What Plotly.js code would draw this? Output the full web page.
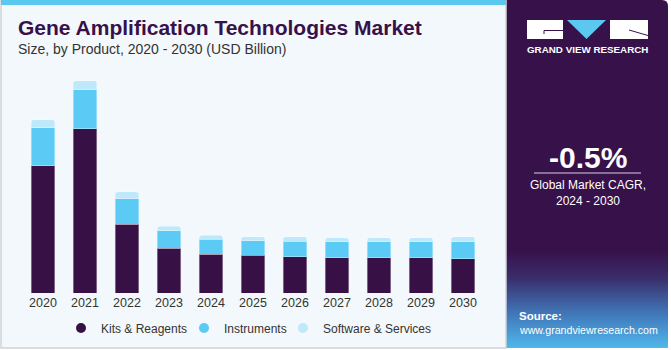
<!DOCTYPE html>
<html>
<head>
<meta charset="utf-8">
<script src="https://cdn.plot.ly/plotly-3.0.1.min.js"></script>
<style>
  html, body { margin: 0; padding: 0; background: #ffffff; }
  #chart { width: 671px; height: 350px; }
</style>
</head>
<body>
<div id="chart"></div>
<script>
// ---- data ----
const years = ['2020','2021','2022','2023','2024','2025','2026','2027','2028','2029','2030'];
const kitsReagents     = [19.3, 24.9, 10.45, 6.77, 5.90, 5.71, 5.50, 5.35, 5.35, 5.35, 5.20];
const instruments      = [5.75, 5.95, 3.89, 2.67, 2.23, 2.21, 2.33, 2.42, 2.42, 2.42, 2.58];
const softwareServices = [1.26, 1.36, 1.00, 0.67, 0.61, 0.61, 0.70, 0.61, 0.61, 0.61, 0.76];
const seriesNames = ['Kits & Reagents', 'Instruments', 'Software & Services'];
const calloutYear = '2023';
const calloutText = '$10.1B';
const cagrText = '-0.5%';
const cagrLabel = 'Global Market CAGR,<br>2024 - 2030';

// ---- styling ----
const W = 671, H = 350;
const colors = ['#371046', '#5bcbf5', '#bde9fb'];
const px = x => x / W;
const py = y => 1 - y / H;
const FONT = 'Liberation Sans, Arial, sans-serif';

const edge = {color: 'rgba(255,255,255,0.35)', width: 1};
const bars = [kitsReagents, instruments, softwareServices].map((vals, i) => ({
  type: 'bar', x: years, y: vals, name: seriesNames[i],
  marker: {color: colors[i], line: edge},
  showlegend: false, hoverinfo: 'x+y+name'
}));
const legendTraces = seriesNames.map((n, i) => ({
  type: 'scatter', mode: 'markers', x: [null], y: [null], name: n,
  marker: {color: colors[i], size: 10, symbol: 'circle'},
  legend: i === 0 ? 'legend' : 'legend' + (i + 1), showlegend: true
}));

const idx = years.indexOf(calloutYear);
const calloutTotal = kitsReagents[idx] + instruments[idx] + softwareServices[idx];

const legendBase = {orientation: 'h', yanchor: 'middle', y: py(328), xanchor: 'left',
  bgcolor: 'rgba(0,0,0,0)', font: {family: FONT, size: 12, color: '#333333'}};

const panelSvg = '<svg xmlns="http://www.w3.org/2000/svg" width="162" height="348" viewBox="0 0 162 348" preserveAspectRatio="none">' +
  '<defs><linearGradient id="g" x1="0" y1="0" x2="0" y2="1">' +
  '<stop offset="0" stop-color="#37114a"/>' +
  '<stop offset="0.72" stop-color="#37114a"/>' +
  '<stop offset="0.80" stop-color="#3a2e6c"/>' +
  '<stop offset="0.90" stop-color="#4076b8"/>' +
  '<stop offset="1" stop-color="#50b8ec"/>' +
  '</linearGradient></defs>' +
  '<path d="M0 0 H156 Q162 0 162 6 V348 H0 Z" fill="url(#g)"/>' +
  '</svg>';

const white = '#ffffff';
const layout = {
  width: W, height: H,
  margin: {l: 0, r: 0, t: 0, b: 0},
  paper_bgcolor: '#ffffff',
  plot_bgcolor: 'rgba(0,0,0,0)',
  barmode: 'stack',
  bargap: 0.43,
  barcornerradius: 3,
  showlegend: true,
  font: {family: FONT, color: '#333333'},
  xaxis: {
    domain: [px(22), px(484)], type: 'category', categoryorder: 'array', categoryarray: years,
    range: [-0.5, 10.5], showgrid: false, zeroline: false, showline: false, ticks: '',
    tickfont: {size: 12.5, color: '#333333'}, fixedrange: true
  },
  yaxis: {
    domain: [py(293), py(69)], range: [0, 34], visible: false, fixedrange: true
  },
  legend: Object.assign({}, legendBase, {x: px(61)}),
  legend2: Object.assign({}, legendBase, {x: px(184)}),
  legend3: Object.assign({}, legendBase, {x: px(283)}),
  images: [{
    source: 'data:image/svg+xml;charset=utf-8,' + encodeURIComponent(panelSvg),
    xref: 'paper', yref: 'paper', x: px(506), y: py(0), sizex: px(162), sizey: 348 / H,
    sizing: 'stretch', xanchor: 'left', yanchor: 'top', layer: 'below'
  }],
  shapes: [
    // card (left part)
    {type: 'rect', xref: 'paper', yref: 'paper', x0: px(1), x1: px(506), y0: py(348), y1: py(0),
      fillcolor: '#f3f8fc', line: {color: '#cfd3d6', width: 1.5}, layer: 'below'},
    // top stripe
    {type: 'rect', xref: 'paper', yref: 'paper', x0: px(1), x1: px(506), y0: py(5), y1: py(0),
      fillcolor: '#5bc8f0', line: {width: 0}, layer: 'below'},
    // logo G block
    {type: 'rect', xref: 'paper', yref: 'paper', x0: px(527), x1: px(563), y0: py(39), y1: py(20),
      fillcolor: white, line: {width: 0}},
    {type: 'path', xref: 'paper', yref: 'paper',
      path: `M${px(544)},${py(30.5)} L${px(563)},${py(30.5)} M${px(544)},${py(30.5)} L${px(544)},${py(34)}`,
      line: {color: '#37114a', width: 1}},
    // logo V triangle
    {type: 'path', xref: 'paper', yref: 'paper',
      path: `M${px(567)},${py(20)} L${px(606)},${py(20)} L${px(586.5)},${py(39)} Z`,
      fillcolor: '#5bc8f0', line: {width: 0}},
    // logo R block
    {type: 'rect', xref: 'paper', yref: 'paper', x0: px(610), x1: px(648), y0: py(39), y1: py(20),
      fillcolor: white, line: {width: 0}},
    {type: 'path', xref: 'paper', yref: 'paper',
      path: `M${px(629)},${py(30)} L${px(648)},${py(35.5)}`,
      line: {color: '#37114a', width: 1}},
    // CAGR divider
    {type: 'line', xref: 'paper', yref: 'paper', x0: px(534), x1: px(641), y0: py(173), y1: py(173),
      line: {color: '#d9d2e0', width: 1}}
  ],
  annotations: [
    {xref: 'paper', yref: 'paper', x: px(16), y: py(28), xanchor: 'left', yanchor: 'middle',
      text: '<b>Gene Amplification Technologies Market</b>', showarrow: false,
      font: {family: FONT, size: 21, color: '#37114a'}},
    {xref: 'paper', yref: 'paper', x: px(16), y: py(49), xanchor: 'left', yanchor: 'middle',
      text: 'Size, by Product, 2020 - 2030 (USD Billion)', showarrow: false,
      font: {family: FONT, size: 14, color: '#333333'}},
    {xref: 'x', yref: 'y', x: calloutYear, y: calloutTotal, yanchor: 'bottom', yshift: 6,
      text: calloutText, showarrow: false,
      font: {family: FONT, size: 14, color: '#333333'}},
    {xref: 'paper', yref: 'paper', x: px(587.5), y: py(50), xanchor: 'center', yanchor: 'middle',
      text: '<b>GRAND VIEW RESEARCH</b>', showarrow: false,
      font: {family: FONT, size: 9.8, color: white}},
    {xref: 'paper', yref: 'paper', x: px(587.5), y: py(157), xanchor: 'center', yanchor: 'middle',
      text: '<b>' + cagrText + '</b>', showarrow: false,
      font: {family: FONT, size: 30, color: white}},
    {xref: 'paper', yref: 'paper', x: px(587.5), y: py(193), xanchor: 'center', yanchor: 'middle',
      text: cagrLabel, showarrow: false,
      font: {family: FONT, size: 12, color: white}},
    {xref: 'paper', yref: 'paper', x: px(517), y: py(316), xanchor: 'left', yanchor: 'middle',
      text: '<b>Source:</b>', showarrow: false,
      font: {family: FONT, size: 11.5, color: white}},
    {xref: 'paper', yref: 'paper', x: px(517), y: py(330), xanchor: 'left', yanchor: 'middle',
      text: 'www.grandviewresearch.com', showarrow: false,
      font: {family: FONT, size: 10.6, color: white}}
  ]
};

Plotly.newPlot('chart', bars.concat(legendTraces), layout, {displayModeBar: false, staticPlot: true});
</script>
</body>
</html>
